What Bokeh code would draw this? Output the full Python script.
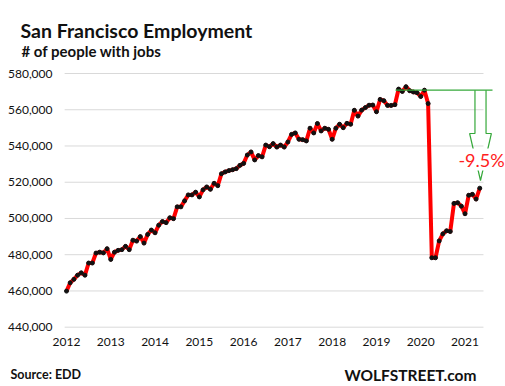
from bokeh.plotting import figure
from bokeh.models import (ColumnDataSource, FixedTicker, NumeralTickFormatter,
                          Label, Range1d)
from bokeh.embed import file_html
from bokeh.resources import INLINE

# ---------------- data ----------------
years = ["2012", "2013", "2014", "2015", "2016", "2017", "2018", "2019", "2020", "2021"]
y_ticks = [440000, 460000, 480000, 500000, 520000, 540000, 560000, 580000]
# monthly employment, Jan 2012 .. May 2021
employment = [
    459900, 464500, 466400, 468700, 470000, 468700, 475400, 475400, 480900, 481400, 481000, 483300,
    477400, 481400, 482400, 482800, 484600, 482800, 488000, 487500, 490000, 486400, 491200, 493600,
    492100, 496300, 498300, 497700, 500400, 499900, 506400, 506400, 509700, 513000, 513000, 514500,
    511900, 515800, 517400, 516100, 519400, 518100, 524700, 525700, 526400, 526900, 527500, 529300,
    530400, 535000, 536700, 532300, 534700, 534000, 540500, 539600, 541300, 539400, 540500, 539400,
    542200, 546400, 547200, 543700, 543500, 542800, 549800, 547200, 552400, 548300, 549800, 549200,
    543700, 549800, 552000, 550100, 552500, 552000, 559700, 556500, 559800, 561200, 562500, 562600,
    558900, 565700, 565000, 562400, 562400, 562800, 571400, 570100, 572700, 570500, 569800, 569400,
    567300, 570800, 563400, 478300, 478300, 487600, 491500, 493200, 492800, 508300, 508700, 506800,
    502600, 512800, 513300, 510700, 516700,
]
ref_index = 97          # Feb 2020, pre-pandemic reference level
change_label = "-9.5%"

months = list(range(len(employment)))

# picture-pixel helpers for placing annotations
def mx(px):
    return (px - 66) / 3.69

def vy(py):
    return 580000 - (py - 73) / 36.24 * 20000

# ---------------- figure ----------------
FONT = "Lato"
W, H = 505, 386
p = figure(width=W, height=H, output_backend="svg", toolbar_location=None,
           x_range=Range1d(mx(0), mx(W)), y_range=Range1d(vy(H), vy(0)),
           min_border_left=0, min_border_right=0, min_border_top=0, min_border_bottom=0)
p.outline_line_color = None
p.xgrid.visible = False
p.ygrid.visible = False

# gridlines
p.segment(x0=[-0.5] * len(y_ticks), x1=[len(employment)] * len(y_ticks),
          y0=y_ticks, y1=y_ticks, line_color="#d9d9d9", line_width=1)

# axes (placed inside the frame)
p.yaxis.ticker = FixedTicker(ticks=y_ticks)
p.yaxis.formatter = NumeralTickFormatter(format="0,0")
p.yaxis.fixed_location = mx(58)
p.xaxis.ticker = FixedTicker(ticks=[12 * i for i in range(len(years))])
p.xaxis.major_label_overrides = {12 * i: y for i, y in enumerate(years)}
p.xaxis.fixed_location = vy(334)
for ax in (p.xaxis, p.yaxis):
    ax.axis_line_color = None
    ax.major_tick_line_color = None
    ax.minor_tick_line_color = None
    ax.major_tick_out = 0
    ax.major_tick_in = 0
    ax.major_label_text_font = FONT
    ax.major_label_text_font_size = "12px"
    ax.major_label_text_color = "#111111"
p.yaxis.major_label_standoff = 6
p.xaxis.major_label_standoff = 3

# series
src = ColumnDataSource(dict(m=months, v=employment))
p.line("m", "v", source=src, line_color="#ff0000", line_width=4, line_join="round")
p.scatter("m", "v", source=src, size=4, color="#111111")

# reference line and block arrow
ref = employment[ref_index]
green = "#35a83a"
p.line([mx(395), mx(492)], [ref, ref], line_color=green, line_width=1.2)
cx = mx(480)
wing_v = vy(133)
tip_v = vy(180)
p.line([cx - 1.5, cx - 1.5, cx - 2.95, cx, cx + 2.95, cx + 1.5, cx + 1.5],
       [ref, wing_v, wing_v, tip_v, wing_v, wing_v, ref],
       line_color=green, line_width=1.2)

p.add_layout(Label(x=mx(481), y=vy(159), text=change_label, text_align="center",
                   text_baseline="middle", text_font=FONT, text_font_size="18px",
                   text_color="#ff2020", background_fill_color="white",
                   background_fill_alpha=1.0))

# titles & footer
p.add_layout(Label(x=mx(20), y=vy(30), text="San Francisco Employment", text_align="left",
                   text_baseline="alphabetic", text_font=FONT, text_font_size="19.5px",
                   text_font_style="bold", text_color="#111111"))
p.add_layout(Label(x=mx(21), y=vy(50), text="# of people with jobs", text_align="left",
                   text_baseline="alphabetic", text_font=FONT, text_font_size="15px",
                   text_font_style="bold", text_color="#111111"))
p.add_layout(Label(x=mx(10), y=vy(374), text="Source: EDD", text_align="left",
                   text_baseline="alphabetic", text_font=FONT, text_font_size="12.5px",
                   text_font_style="bold", text_color="#111111"))
p.add_layout(Label(x=mx(476), y=vy(374), text="WOLFSTREET.com", text_align="right",
                   text_baseline="alphabetic", text_font=FONT, text_font_size="15.5px",
                   text_font_style="bold", text_color="#111111"))

open("out.html", "w").write(file_html(p, INLINE))
